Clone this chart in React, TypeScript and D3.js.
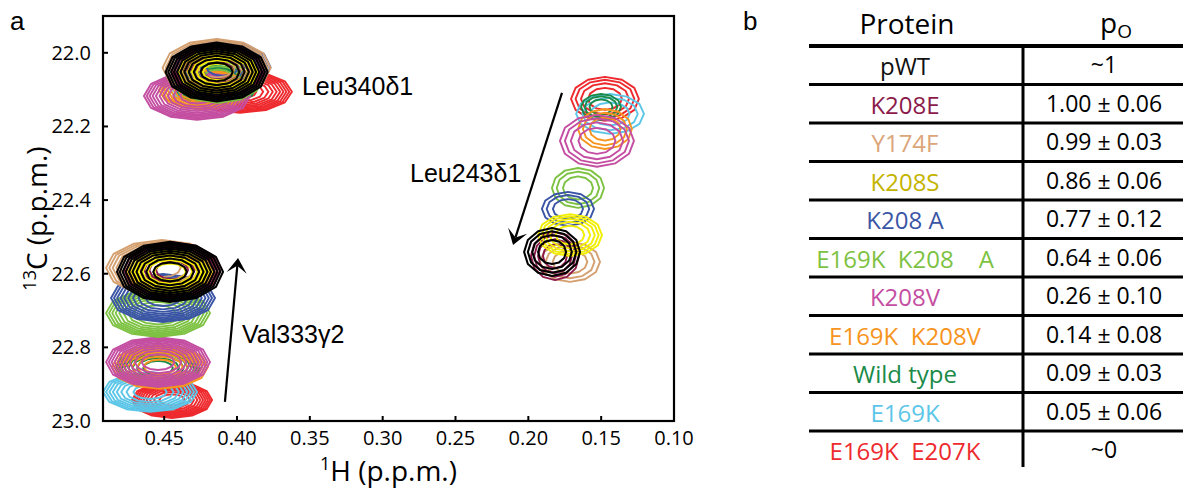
import React from 'react';
import * as d3 from 'd3';

// ---------- data ----------
const proteins = ['pWT', 'K208E', 'Y174F', 'K208S', 'K208 A', 'E169K  K208    A', 'K208V', 'E169K  K208V', 'Wild type', 'E169K', 'E169K  E207K'];
const poLabels = ['~1', '1.00 ± 0.06', '0.99 ± 0.03', '0.86 ± 0.06', '0.77 ± 0.12', '0.64 ± 0.06', '0.26 ± 0.10', '0.14 ± 0.08', '0.09 ± 0.03', '0.05 ± 0.06', '~0'];
const textColors = ['#111111', '#8b1a4b', '#dca57a', '#c4b400', '#3a55a5', '#7dc242', '#c44ea1', '#f7941d', '#1a8a48', '#5cc6e8', '#ee2a2e'];
const contourColors = ['#000000', '#8b1a4b', '#d4a070', '#f2ee00', '#3a55a5', '#7dc242', '#c44ea1', '#f7941d', '#1a8a48', '#5cc6e8', '#ee2a2e'];

// peak centres (ppm) and outer half-widths (ppm) per protein
const leu340H = [0.414, 0.413, 0.414, 0.413, 0.410, 0.413, 0.4275, 0.422, 0.415, 0.417, 0.398];
const leu340C = [22.052, 22.049, 22.041, 22.052, 22.039, 22.068, 22.117, 22.101, 22.090, 22.087, 22.106];
const leu340RH = [0.0350, 0.0316, 0.0371, 0.0275, 0.033, 0.0309, 0.0364, 0.0316, 0.0288, 0.0309, 0.0357];
const leu340RC = [0.0800, 0.0706, 0.0788, 0.0598, 0.0706, 0.0679, 0.0652, 0.0543, 0.0543, 0.0543, 0.057];
const leu340N = [10, 9, 9, 7, 9, 9, 10, 9, 8, 8, 10];

const val333H = [0.446, 0.4446, 0.4515, 0.446, 0.4508, 0.4542, 0.4542, 0.4529, 0.4542, 0.4597, 0.4446];
const val333C = [22.595, 22.59, 22.584, 22.595, 22.666, 22.707, 22.84, 22.853, 22.856, 22.921, 22.943];
const val333RH = [0.0364, 0.033, 0.0384, 0.0288, 0.0357, 0.0357, 0.0357, 0.033, 0.0288, 0.0323, 0.0275];
const val333RC = [0.0815, 0.076, 0.076, 0.0598, 0.0652, 0.0652, 0.0679, 0.0598, 0.0543, 0.0543, 0.0489];
const val333N = [10, 9, 9, 7, 9, 9, 10, 9, 8, 8, 10];

const leu243H = [0.1837, 0.1817, 0.1714, 0.1714, 0.1728, 0.1659, 0.1529, 0.1474, 0.1501, 0.1439, 0.1474];
const leu243C = [22.541, 22.552, 22.568, 22.495, 22.424, 22.367, 22.239, 22.207, 22.147, 22.166, 22.125];
const leu243RH = [0.0192, 0.0165, 0.0206, 0.022, 0.0179, 0.0179, 0.0254, 0.0185, 0.0137, 0.0233, 0.0233];
const leu243RC = [0.0652, 0.0652, 0.0543, 0.057, 0.0462, 0.0543, 0.0706, 0.0543, 0.0353, 0.0543, 0.0598];
const leu243N = [4, 4, 3, 5, 3, 3, 4, 3, 3, 3, 4];

const drawOrder = [10, 9, 8, 7, 6, 5, 4, 2, 1, 3, 0];

const xDomain = [0.492, 0.10];
const yDomain = [21.9, 23.0];
const xTicks = [0.45, 0.40, 0.35, 0.30, 0.25, 0.20, 0.15, 0.10];
const yTicks = [22.0, 22.2, 22.4, 22.6, 22.8, 23.0];

// annotations (ppm)
const labels = [
  { text: 'Leu340δ1', h: 0.3554, c: 22.115 },
  { text: 'Leu243δ1', h: 0.2812, c: 22.351 },
  { text: 'Val333γ2', h: 0.3966, c: 22.788 },
];
const arrows = [
  { h0: 0.4083, c0: 22.948, h1: 0.3993, c1: 22.557 },
  { h0: 0.1769, c0: 22.109, h1: 0.2105, c1: 22.522 },
];

// ---------- layout ----------
const PL = 103, PR = 674, PT = 16, PB = 421;
const x = d3.scaleLinear().domain(xDomain).range([PL, PR]);
const y = d3.scaleLinear().domain(yDomain).range([PT, PB]);

const TL = 809, TR = 1183, TDIV = 1023, TTOP = 46, TBOT = 469.5;
const rowY = d3.scaleLinear().domain([0, proteins.length]).range([TTOP, TBOT]);
const nameX = 905, valX = 1104;

const MYR = '"Open Sans", "Noto Sans", sans-serif';
const HELV = '"Liberation Sans", Arial, sans-serif';

const lineGen = d3.line<[number, number]>().curve(d3.curveLinearClosed);

function rings(h: number, c: number, rh: number, rc: number, n: number) {
  const out: string[] = [];
  for (let i = 0; i < n; i++) {
    const k = Math.sqrt((n - i) / n);
    const pts: [number, number][] = d3.range(12).map((j) => {
      const a = (j / 12) * 2 * Math.PI;
      return [x(h + rh * k * Math.cos(a)), y(c + rc * k * Math.sin(a))];
    });
    out.push(lineGen(pts) as string);
  }
  return out;
}

function Arrow({ h0, c0, h1, c1 }: { h0: number; c0: number; h1: number; c1: number }) {
  const x0 = x(h0), y0 = y(c0), x1 = x(h1), y1 = y(c1);
  const dx = x1 - x0, dy = y1 - y0;
  const L = Math.hypot(dx, dy);
  const ux = dx / L, uy = dy / L;
  const px = -uy, py = ux;
  const len = 15, half = 10, notch = 8;
  const bx = x1 - ux * len, by = y1 - uy * len;
  const nx = x1 - ux * notch, ny = y1 - uy * notch;
  const head = `M${x1},${y1}L${bx + px * half},${by + py * half}L${nx},${ny}L${bx - px * half},${by - py * half}Z`;
  return (
    <g>
      <line x1={x0} y1={y0} x2={nx} y2={ny} stroke="#000" strokeWidth={2.2} />
      <path d={head} fill="#000" />
    </g>
  );
}

export default function App() {
  const peaks = [
    { H: leu340H, C: leu340C, RH: leu340RH, RC: leu340RC, N: leu340N },
    { H: val333H, C: val333C, RH: val333RH, RC: val333RC, N: val333N },
    { H: leu243H, C: leu243C, RH: leu243RH, RC: leu243RC, N: leu243N },
  ];
  return (
    <div style={{ position: 'absolute', left: 0, top: 0 }}>
      <svg width={1183} height={491} style={{ display: 'block', background: '#fff' }}>
        <defs>
          <clipPath id="plotclip">
            <rect x={PL} y={PT} width={PR - PL} height={PB - PT} />
          </clipPath>
        </defs>
        {/* panel labels */}
        <text x={10} y={30} fontFamily={HELV} fontSize={26} fill="#000">a</text>
        <text x={743} y={30} fontFamily={HELV} fontSize={26} fill="#000">b</text>

        {/* contours */}
        <g clipPath="url(#plotclip)" fill="none" strokeLinejoin="round">
          {peaks.map((pk, pi) =>
            drawOrder.map((vi) => (
              <g key={`${pi}-${vi}`} stroke={contourColors[vi]} strokeWidth={vi === 0 ? 2.1 : 1.9}>
                {rings(pk.H[vi], pk.C[vi], pk.RH[vi], pk.RC[vi], pk.N[vi]).map((d, ri) => (
                  <path key={ri} d={d} />
                ))}
              </g>
            ))
          )}
        </g>

        {/* frame */}
        <rect x={PL} y={PT} width={PR - PL} height={PB - PT} fill="none" stroke="#000" strokeWidth={2.2} />

        {/* ticks */}
        {yTicks.map((t) => (
          <g key={`y${t}`}>
            <line x1={PL} x2={PL + 5} y1={y(t)} y2={y(t)} stroke="#000" strokeWidth={2} />
            <text x={91} y={y(t) + 7} textAnchor="end" fontFamily={MYR} fontSize={20} fill="#000">{t.toFixed(1)}</text>
          </g>
        ))}
        {xTicks.map((t) => (
          <g key={`x${t}`}>
            <line x1={x(t)} x2={x(t)} y1={PB} y2={PB - 5} stroke="#000" strokeWidth={2} />
            <text x={x(t)} y={445} textAnchor="middle" fontFamily={MYR} fontSize={20} fill="#000">{t.toFixed(2)}</text>
          </g>
        ))}

        {/* axis titles */}
        <text x={(PL + PR) / 2} y={481} textAnchor="middle" fontFamily={MYR} fontSize={28} fill="#000">
          <tspan fontSize={18} dy={-11}>1</tspan>
          <tspan dy={11}>H (p.p.m.)</tspan>
        </text>
        <text transform={`translate(47,${(PT + PB) / 2}) rotate(-90)`} textAnchor="middle" fontFamily={MYR} fontSize={28} fill="#000">
          <tspan fontSize={18} dy={-11}>13</tspan>
          <tspan dy={11}>C (p.p.m.)</tspan>
        </text>

        {/* annotations */}
        {labels.map((l) => (
          <text key={l.text} x={x(l.h)} y={y(l.c)} fontFamily={HELV} fontSize={25} fill="#000">{l.text}</text>
        ))}
        {arrows.map((a, i) => (
          <Arrow key={i} {...a} />
        ))}

        {/* table */}
        <text x={nameX + 2} y={34} textAnchor="middle" fontFamily={MYR} fontSize={28} fill="#000">Protein</text>
        <text x={1100} y={33} fontFamily={MYR} fontSize={28} fill="#000">
          p<tspan fontSize={19} dy={5}>O</tspan>
        </text>
        <line x1={TL} x2={TR} y1={rowY(0)} y2={rowY(0)} stroke="#000" strokeWidth={4} />
        {proteins.slice(1).map((p, i) => (
          <line key={p} x1={TL} x2={TR} y1={rowY(i + 1)} y2={rowY(i + 1)} stroke="#000" strokeWidth={3} />
        ))}
        <line x1={TDIV} x2={TDIV} y1={rowY(0)} y2={467} stroke="#000" strokeWidth={3} />
        {proteins.map((p, i) => {
          const cy = (rowY(i) + rowY(i + 1)) / 2;
          return (
            <g key={p}>
              <text x={nameX} y={cy + 10} textAnchor="middle" fontFamily={MYR} fontSize={24} fill={textColors[i]} style={{ whiteSpace: 'pre' }}>{p}</text>
              <text x={valX} y={cy + 8} textAnchor="middle" fontFamily={MYR} fontSize={23} fill="#000">{poLabels[i]}</text>
            </g>
          );
        })}
      </svg>
    </div>
  );
}
